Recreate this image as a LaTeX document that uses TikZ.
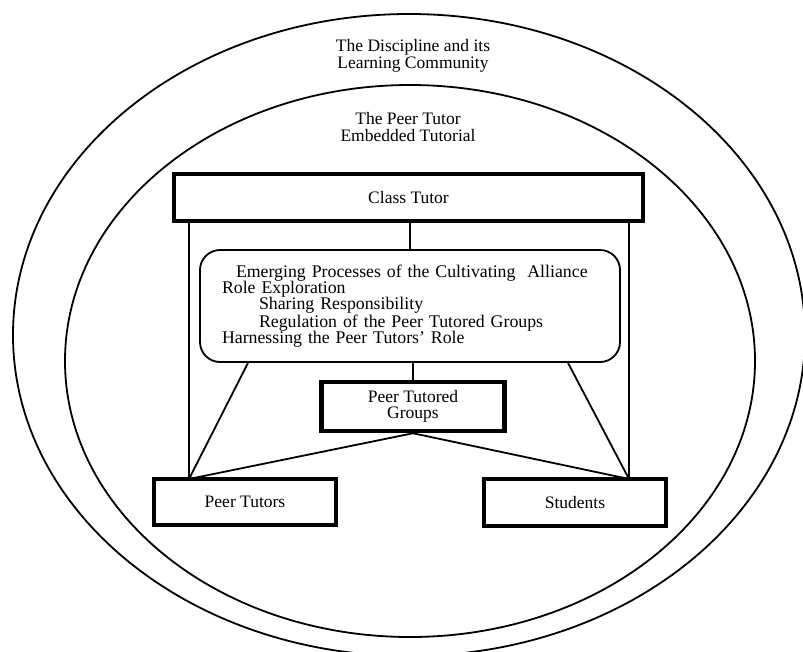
\documentclass[tikz,border=0pt]{standalone}
\usepackage{fontspec}
\setmainfont{Liberation Serif}
\usetikzlibrary{calc}

\tikzset{
  label text/.style={font=\fontsize{17.5}{17}\selectfont, align=center},
  tutorbox/.style={draw, line width=4.5pt, inner sep=0pt, align=center,
    font=\fontsize{17.5}{16.5}\selectfont},
  procbox/.style={draw, line width=1.8pt, rounded corners=20pt, align=left,
    text width=376pt, inner xsep=22pt, inner ysep=0pt, minimum height=112pt,
    font=\fontsize{17.8}{16.3}\selectfont},
  link/.style={line width=1.8pt}
}

\begin{document}
\begin{tikzpicture}[x=1pt, y=-1pt]
\useasboundingbox (0,0) rectangle (803,651);

% the two rings
\draw[line width=1.8pt] (409,335) ellipse [x radius=396, y radius=321];
\draw[line width=1.8pt] (410,361) ellipse [x radius=345, y radius=276];
\node[label text] (discipline) at (413,56) {The Discipline and its\\Learning Community};
\node[label text] (embedded) at (408,127) {The Peer Tutor\\Embedded Tutorial};

% boxes
\node[tutorbox, minimum width=469pt, minimum height=47pt] (ctutor) at (408.5,197.5) {Class Tutor};
\node[procbox] (proc) at (410,306) {%
\hspace*{14pt}Emerging Processes of the Cultivating~ Alliance\\
Role Exploration\\
\hspace*{37pt}Sharing Responsibility\\
\hspace*{37pt}Regulation of the Peer Tutored Groups\\
Harnessing the Peer Tutors’ Role};
\node[tutorbox, minimum width=183pt, minimum height=49pt] (ptg) at (413,406.5) {Peer Tutored\\Groups};
\node[tutorbox, minimum width=182pt, minimum height=46pt] (ptutor) at (245,502) {Peer Tutors};
\node[tutorbox, minimum width=182pt, minimum height=47pt] (student) at (575,502.5) {Students};

% meeting points on the lower boxes
\coordinate (ptjoin) at (189,479);
\coordinate (stjoin) at (629,479);

% connectors
\draw[link] (proc.north |- ctutor.south) -- (proc.north);
\draw[link] (ptg.north |- proc.south) -- (ptg.north);
\draw[link] (ptjoin |- ctutor.south) -- (ptjoin);
\draw[link] (stjoin |- ctutor.south) -- (stjoin);
\draw[link] ($(proc.south)+(-162,0)$) -- (ptjoin);
\draw[link] ($(proc.south)+(158,0)$) -- (stjoin);
\draw[link] (ptg.south) -- (ptjoin);
\draw[link] (ptg.south) -- (stjoin);
\end{tikzpicture}
\end{document}
